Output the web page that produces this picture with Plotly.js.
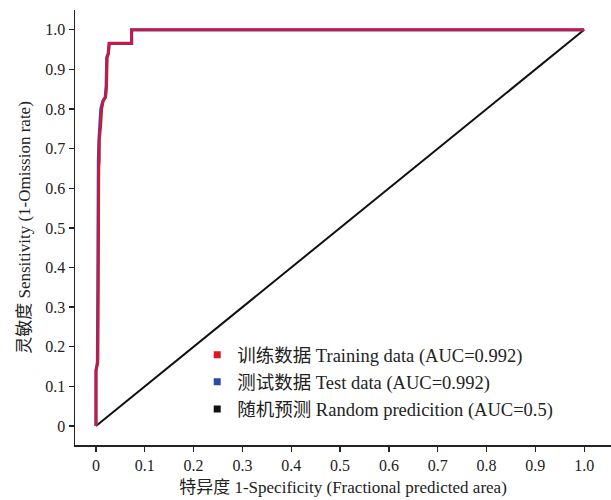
<!DOCTYPE html>
<html>
<head>
<meta charset="utf-8">
<script src="https://cdn.plot.ly/plotly-3.0.1.min.js"></script>
<style>html,body{margin:0;padding:0;background:#fff;}#chart{width:611px;height:500px;}</style>
</head>
<body>
<div id="chart"></div>
<script>
// ROC curve points
const trainX = [0, 0, 0.004, 0.005, 0.006, 0.007, 0.007, 0.010, 0.012, 0.015, 0.020, 0.022, 0.023, 0.026, 0.027, 0.073, 0.073, 1.0];
const trainY = [0, 0.14, 0.16, 0.58, 0.65, 0.67, 0.72, 0.76, 0.80, 0.82, 0.83, 0.86, 0.93, 0.94, 0.966, 0.966, 1.0, 1.0];
const testX = [0, 0, 0.003, 0.004, 0.004, 0.005, 0.006, 0.008, 0.010, 0.014, 0.019, 0.021, 0.022, 0.025, 0.027, 0.073, 0.073, 1.0];
const testY = [0, 0.14, 0.16, 0.58, 0.65, 0.67, 0.72, 0.76, 0.80, 0.82, 0.83, 0.86, 0.93, 0.94, 0.966, 0.966, 1.0, 1.0];
const randX = [0, 1];
const randY = [0, 1];
const tickVals = [0, 0.1, 0.2, 0.3, 0.4, 0.5, 0.6, 0.7, 0.8, 0.9, 1.0];
const tickText = ['0', '0.1', '0.2', '0.3', '0.4', '0.5', '0.6', '0.7', '0.8', '0.9', '1.0'];
const legendNames = ['训练数据 Training data (AUC=0.992)', '测试数据 Test data (AUC=0.992)', '随机预测 Random predicition (AUC=0.5)'];
const colors = ['#e01424', '#2a4aa8', '#111111'];

const FONT = 'Liberation Serif, Times New Roman, Noto Sans CJK SC, serif';

const traces = [
  {x: randX, y: randY, mode: 'lines', line: {color: '#111', width: 2}, showlegend: false, hoverinfo: 'skip'},
  {x: testX, y: testY, mode: 'lines', line: {color: '#3050b0', width: 3.2}, showlegend: false, hoverinfo: 'skip'},
  {x: trainX, y: trainY, mode: 'lines', line: {color: 'rgb(215,20,55)', width: 2.6}, showlegend: false, hoverinfo: 'skip'}
];
legendNames.forEach((n, i) => {
  traces.push({x: [null], y: [null], mode: 'markers', name: n,
    marker: {symbol: 'square', size: 7, color: colors[i]}, showlegend: true});
});

const axisCommon = {
  showgrid: false, zeroline: false, showline: true, linecolor: '#222', linewidth: 1.5,
  ticks: 'outside', ticklen: 5, tickwidth: 1.3, tickcolor: '#222',
  tickvals: tickVals, ticktext: tickText,
  tickfont: {family: FONT, size: 16, color: '#222'}
};

const layout = {
  width: 611, height: 500,
  margin: {l: 75, r: 0, t: 10, b: 55},
  paper_bgcolor: '#fff', plot_bgcolor: '#fff',
  xaxis: Object.assign({}, axisCommon, {range: [-0.043, 1.055],
    title: {text: '特异度 1-Specificity (Fractional predicted area)', font: {family: FONT, size: 17, color: '#222'}, standoff: 8}}),
  yaxis: Object.assign({}, axisCommon, {range: [-0.048, 1.05],
    title: {text: '灵敏度 Sensitivity (1-Omission rate)', font: {family: FONT, size: 17, color: '#222'}, standoff: 10}}),
  legend: {x: 0.228, y: 0.25, xanchor: 'left', yanchor: 'top', bgcolor: 'rgba(0,0,0,0)',
    font: {family: FONT, size: 18.5, color: '#222'}, itemwidth: 30, tracegroupgap: 0},
  showlegend: true
};

Plotly.newPlot('chart', traces, layout, {displayModeBar: false, staticPlot: true});
</script>
</body>
</html>
